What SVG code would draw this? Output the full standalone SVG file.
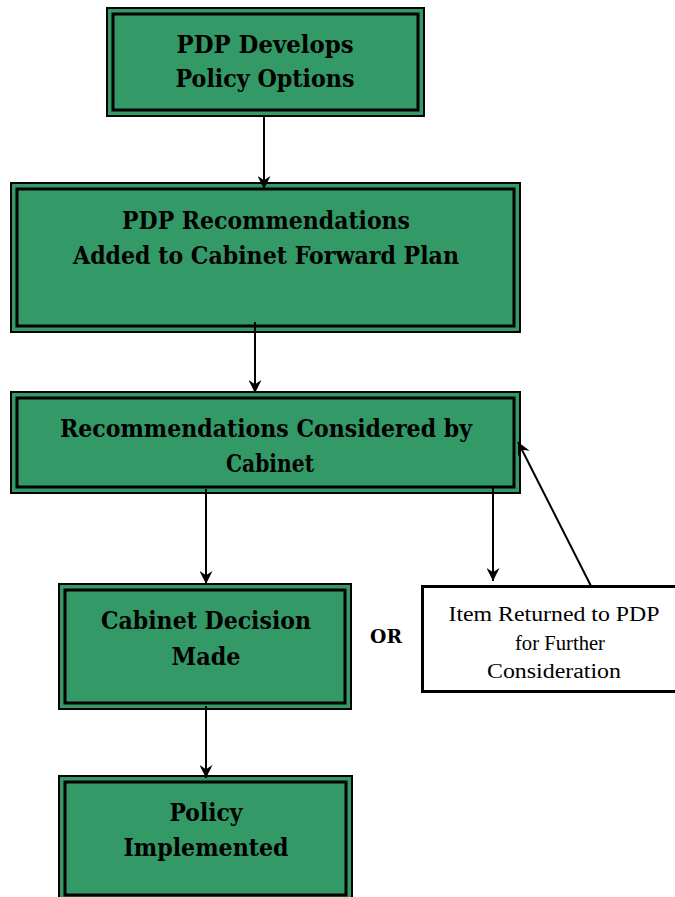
<svg xmlns="http://www.w3.org/2000/svg" width="675" height="897" viewBox="0 0 675 897">
<defs>
<style>
.outer{fill:#339966;stroke:#000;stroke-width:2}
.inner{fill:none;stroke:#000;stroke-width:3}
.t{font-family:"DejaVu Serif","Liberation Serif",serif;font-weight:bold;font-size:23.5px;fill:#000;text-anchor:middle}
.r{font-family:"Liberation Serif","DejaVu Serif",serif;font-size:20px;fill:#000;text-anchor:middle}
.c{stroke:#000;stroke-width:2;fill:none;marker-end:url(#ah)}
</style>
<marker id="ah" viewBox="0 0 12 12" refX="12" refY="6" markerWidth="13" markerHeight="13" markerUnits="userSpaceOnUse" orient="auto">
<path d="M0,0 L12,6 L0,12 L4,6 z" fill="#000"/>
</marker>
</defs>
<rect width="675" height="897" fill="#fff"/>
<g id="n1">
<rect class="outer" x="107" y="8" width="317" height="108"/>
<rect class="inner" x="113" y="14" width="305" height="96"/>
<text class="t" x="265" y="53" textLength="177" lengthAdjust="spacingAndGlyphs">PDP Develops</text>
<text class="t" x="265" y="87" textLength="179" lengthAdjust="spacingAndGlyphs">Policy Options</text>
</g>
<g id="n2">
<rect class="outer" x="11" y="183" width="509" height="149"/>
<rect class="inner" x="17" y="189" width="497" height="137"/>
<text class="t" x="266" y="229" textLength="288" lengthAdjust="spacingAndGlyphs">PDP Recommendations</text>
<text class="t" x="266" y="264" textLength="386" lengthAdjust="spacingAndGlyphs">Added to Cabinet Forward Plan</text>
</g>
<g id="n3">
<rect class="outer" x="11" y="392" width="509" height="101"/>
<rect class="inner" x="17" y="398" width="497" height="89"/>
<text class="t" x="266" y="437" textLength="412" lengthAdjust="spacingAndGlyphs">Recommendations Considered by</text>
<text class="t" x="270" y="472" textLength="88" lengthAdjust="spacingAndGlyphs">Cabinet</text>
</g>
<g id="n4">
<rect class="outer" x="59" y="584" width="292" height="125"/>
<rect class="inner" x="65" y="590" width="280" height="113"/>
<text class="t" x="206" y="629" textLength="210" lengthAdjust="spacingAndGlyphs">Cabinet Decision</text>
<text class="t" x="206" y="665" textLength="69" lengthAdjust="spacingAndGlyphs">Made</text>
</g>
<g id="n5">
<rect class="outer" x="59" y="776" width="293" height="130"/>
<rect class="inner" x="65" y="782" width="281" height="113"/>
<text class="t" x="206" y="821" textLength="73" lengthAdjust="spacingAndGlyphs">Policy</text>
<text class="t" x="206" y="856" textLength="165" lengthAdjust="spacingAndGlyphs">Implemented</text>
</g>
<g id="or">
<text class="t" x="386" y="643" style="font-size:18px" textLength="32" lengthAdjust="spacingAndGlyphs">OR</text>
</g>
<g id="n6">
<rect x="422.5" y="586.5" width="260" height="105" fill="#fff" stroke="#000" stroke-width="3"/>
<text class="r" x="554" y="621" textLength="211" lengthAdjust="spacingAndGlyphs">Item Returned to PDP</text>
<text class="r" x="560" y="650" textLength="90" lengthAdjust="spacingAndGlyphs">for Further</text>
<text class="r" x="554" y="678" textLength="134" lengthAdjust="spacingAndGlyphs">Consideration</text>
</g>
<g id="connectors">
<line class="c" x1="264" y1="117" x2="264" y2="189"/>
<line class="c" x1="255" y1="322" x2="255" y2="393"/>
<line class="c" x1="206" y1="489" x2="206" y2="584"/>
<line class="c" x1="493" y1="488" x2="493" y2="581"/>
<line class="c" x1="591" y1="586" x2="518" y2="442"/>
<line class="c" x1="206" y1="706" x2="206" y2="778"/>
</g>
</svg>
